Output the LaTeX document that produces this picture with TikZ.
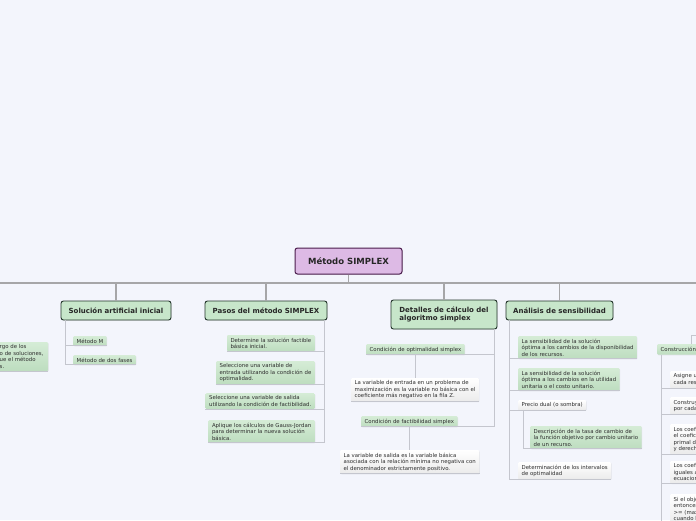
\documentclass[tikz,border=0pt]{standalone}
\usepackage{fontspec}
\setmainfont{DejaVu Sans}
\usetikzlibrary{shadows}
\definecolor{bgc}{HTML}{F3F5FC}
\definecolor{rootfill}{HTML}{DDBAE5}
\definecolor{rootdraw}{HTML}{4A1C4C}
\definecolor{topfill}{HTML}{C7E6CA}
\definecolor{topdraw}{HTML}{22342A}
\definecolor{gtop}{HTML}{D5ECD6}
\definecolor{gbot}{HTML}{BDDDBF}
\definecolor{wtop}{HTML}{FFFFFF}
\definecolor{wbot}{HTML}{EBEBEB}
\definecolor{linec}{HTML}{C4C6CE}
\definecolor{barc}{HTML}{A6A6A8}
\definecolor{txt}{HTML}{2E2E2E}
\newcommand{\tinyf}{\fontsize{5.4}{6.5}\selectfont}
\begin{document}
\begin{tikzpicture}[x=1pt,y=-1pt,
  shad/.style={drop shadow={shadow xshift=0.5pt, shadow yshift=-0.7pt, opacity=0.16}},
  rootbox/.style={draw=rootdraw, fill=rootfill, line width=1pt, rounded corners=2.5pt,
    minimum width=107pt, minimum height=26pt, inner sep=2pt,
    font=\fontsize{8.5}{10}\selectfont\bfseries, text=black!85, shad},
  topicbox/.style={draw=topdraw, fill=topfill, line width=0.9pt, rounded corners=2.5pt,
    minimum height=19pt, inner sep=2pt,
    font=\fontsize{7}{8.6}\selectfont\bfseries, text=black!85, shad},
  subg/.style={anchor=north west, top color=gtop, bottom color=gbot, draw=none,
    rounded corners=1pt, inner xsep=3.5pt, inner ysep=2.5pt, align=left,
    font=\tinyf, text=txt, shad},
  subw/.style={subg, top color=wtop, bottom color=wbot},
  conn/.style={draw=linec, line width=0.9pt},
  barline/.style={draw=barc, line width=1.1pt}]
\useasboundingbox (0,0) rectangle (696,520);
\fill[bgc] (0,0) rectangle (696,520);
\clip (0,0) rectangle (696,520);

% ---------- nodes ----------
\node[rootbox] (root) at (348.5,261) {Método SIMPLEX};

\node[topicbox, minimum width=110pt] (sol) at (116,310.5) {Solución artificial inicial};
\node[topicbox, minimum width=122pt] (pas) at (266,310.5) {Pasos del método SIMPLEX};
\node[topicbox, minimum width=106pt, minimum height=29pt, align=left] (det) at (444,314.5)
  {Detalles de cálculo del\\algoritmo simplex};
\node[topicbox, minimum width=107pt] (ana) at (559.5,310.5) {Análisis de sensibilidad};

% left, cut off
\node[subg, minimum width=52pt, text width=45pt] (lft) at (-4,342)
  {rgo de los\\o de soluciones,\\ue el método\\s.};

% Solucion artificial inicial
\node[subg] (sm1) at (73,336) {Método M};
\node[subg] (sm2) at (73,355) {Método de dos fases};

% Pasos
\node[subg, anchor=north east] (p1) at (315,335) {Determine la solución factible\\básica inicial.};
\node[subg, anchor=north east] (p2) at (315,361) {Seleccione una variable de\\entrada utilizando la condición de\\optimalidad.};
\node[subg, anchor=north east] (p3) at (315,393) {Seleccione una variable de salida\\utilizando la condición de factibilidad.};
\node[subg, anchor=north east] (p4) at (315,420) {Aplique los cálculos de Gauss-Jordan\\para determinar la nueva solución\\básica.};

% Detalles
\node[subg] (d1) at (366,344) {Condición de optimalidad simplex};
\node[subw] (d1a) at (351,378) {La variable de entrada en un problema de\\maximización es la variable no básica con el\\coeficiente más negativo en la fila Z.};
\node[subg] (d2) at (361,416) {Condición de factibilidad simplex};
\node[subw] (d2a) at (340,450) {La variable de salida es la variable básica\\asociada con la relación mínima no negativa con\\el denominador estrictamente positivo.};

% Analisis
\node[subg] (a1) at (518,336) {La sensibilidad de la solución\\óptima a los cambios de la disponibilidad\\de los recursos.};
\node[subg] (a2) at (518,368) {La sensibilidad de la solución\\óptima a los cambios en la utilidad\\unitaria o el costo unitario.};
\node[subw] (a3) at (518,400) {Precio dual (o sombra)};
\node[subg] (a3a) at (530,426) {Descripción de la tasa de cambio de\\la función objetivo por cambio unitario\\de un recurso.};
\node[subw] (a4) at (518,462) {Determinación de los intervalos\\de optimalidad};

% right, cut off
\node[subg] (c) at (657,344) {Construcción del problema dual};
\node[subw] (c1) at (670,371) {Asigne una variable dual a\\cada restricción primal.};
\node[subw] (c2) at (670,397) {Construya una restricción dual\\por cada variable primal.};
\node[subw] (c3) at (670,424) {Los coeficientes de restricción de\\el coeficiente objetivo de una variable\\primal definen los lados izquierdo\\y derecho de la restricción dual.};
\node[subw] (c4) at (670,461) {Los coeficientes objetivo son\\iguales al lado derecho de las\\ecuaciones de restricción.};
\node[subw] (c5) at (670,494) {Si el objetivo es de maximización,\\entonces las restricciones duales son\\>= (maximización), y <= (minimización)\\cuando las variables son no negativas.};

% ---------- connectors ----------
\coordinate (barL) at (0,283);
\coordinate (barR) at (696,283);
\draw[barline] (barL) -- (barR);
\draw[barline] (root.south) -- (root.south |- barL);
\draw[barline] (sol.north) -- (sol.north |- barL);
\draw[barline] (pas.north) -- (pas.north |- barL);
\draw[barline] (det.north) -- (det.north |- barL);
\draw[barline] (ana.north) -- (ana.north |- barL);

\draw[conn] (lft.south west) -- (lft.south east);

\coordinate (solT) at ([xshift=5pt]sol.south west);
\draw[conn] (solT) -- (solT |- sm2.south) -- (sm2.south east);
\draw[conn] (solT |- sm1.south) -- (sm1.south east);

\coordinate (pasT) at ([xshift=-3pt]pas.south east);
\draw[conn] (pasT) -- (pasT |- p4.south) -- (p4.south west);
\draw[conn] (p1.south west) -- (p1.south -| pasT);
\draw[conn] (p2.south west) -- (p2.south -| pasT);
\draw[conn] (p3.south west) -- (p3.south -| pasT);

\coordinate (detT) at ([xshift=-3pt]det.south east);
\draw[conn] (detT) -- (detT |- d2.south) -- (d2.south west);
\draw[conn] (d1.south west) -- (d1.south -| detT);
\draw[conn] (d1.south) -- (d1.south |- d1a.north);
\draw[conn] (d2.south) -- (d2.south |- d2a.north);
\draw[conn] (d1a.south west) -- (d1a.south east);
\draw[conn] (d2a.south west) -- (d2a.south east);

\coordinate (anaT) at ([xshift=4pt]ana.south west);
\draw[conn] (anaT) -- (anaT |- a4.south) -- (a4.south east);
\draw[conn] (anaT |- a1.south) -- (a1.south east);
\draw[conn] (anaT |- a2.south) -- (a2.south east);
\draw[conn] (anaT |- a3.south) -- (a3.south east);
\coordinate (a3T) at ([xshift=5pt]a3.south west);
\draw[conn] (a3T) -- (a3T |- a3a.south) -- (a3a.south east);

\coordinate (cTop) at (691,335);
\coordinate (cEnd) at (700,335);
\draw[conn] (c.north -| cTop) -- (cTop) -- (cEnd);
\coordinate (cT) at ([xshift=4pt]c.south west);
\coordinate (cBot) at (661,525);
\draw[conn] (cT) -- (cT |- cBot);
\draw[conn] (cT |- c1.south) -- (c1.south east);
\draw[conn] (cT |- c2.south) -- (c2.south east);
\draw[conn] (cT |- c3.south) -- (c3.south east);
\draw[conn] (cT |- c4.south) -- (c4.south east);
\end{tikzpicture}
\end{document}
